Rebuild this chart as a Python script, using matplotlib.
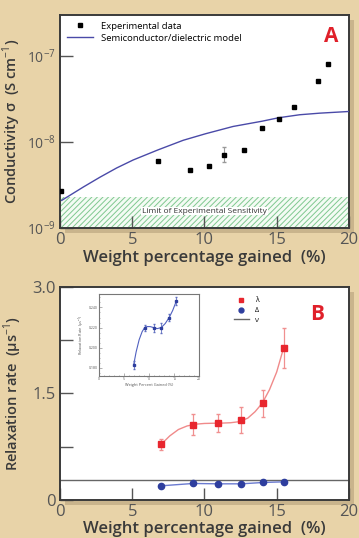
import numpy as np
import matplotlib.pyplot as plt
from matplotlib.patches import Rectangle
from matplotlib.lines import Line2D
from matplotlib.ticker import FixedLocator, FixedFormatter, NullLocator

plt.rcParams['font.family'] = ['Open Sans', 'DejaVu Sans']
plt.rcParams['mathtext.fontset'] = 'custom'
plt.rcParams['mathtext.rm'] = 'Open Sans'
plt.rcParams['hatch.linewidth'] = 0.7

# panel A: conductivity vs weight gain
wt_exp = [0.05, 6.77, 8.99, 10.3, 11.34, 12.74, 13.99, 15.14, 16.22, 17.88, 18.53]
sigma_exp = [2.7e-9, 6.0e-9, 4.7e-9, 5.3e-9, 7.1e-9, 8.2e-9, 1.44e-8, 1.84e-8, 2.55e-8, 5.1e-8, 8.1e-8]
sigma_err_lo = [0, 0, 0, 0, 1.3e-9, 0, 0, 0, 0, 0, 0]
sigma_err_hi = [0, 0, 0, 0, 1.6e-9, 0, 0, 0, 0, 0, 0]
wt_model = [0.12, 1.61, 2.76, 3.92, 5.07, 6.77, 8.53, 10.07, 11.98, 13.99, 15.14, 16.59, 17.97, 20.0]
sigma_model = [2.1e-9, 3.0e-9, 3.9e-9, 5.0e-9, 6.2e-9, 8.1e-9, 1.05e-8, 1.25e-8, 1.52e-8,
               1.75e-8, 1.92e-8, 2.08e-8, 2.17e-8, 2.27e-8]
sens_limit = 2.3e-9

# panel B: relaxation rates
wt_b = [7.0, 9.22, 10.97, 12.56, 14.06, 15.48]
lam = [0.78, 1.06, 1.08, 1.12, 1.36, 2.14]
lam_err = [0.08, 0.145, 0.13, 0.18, 0.19, 0.28]
delta = [0.197, 0.23, 0.225, 0.225, 0.244, 0.253]
nu = 0.28
wt_lam_fit = [7.0, 7.6, 8.2, 8.8, 9.4, 10.0, 10.6, 11.2, 11.8, 12.4, 13.0, 13.5, 14.0, 14.5, 15.0, 15.48]
lam_fit = [0.78, 0.90, 0.99, 1.04, 1.065, 1.075, 1.078, 1.08, 1.085, 1.10, 1.15, 1.24, 1.36, 1.55, 1.80, 2.14]

# inset data
wt_in = [6.9, 9.1, 10.9, 12.4, 14.0, 15.4]
rate_in = [0.183, 0.220, 0.220, 0.220, 0.230, 0.246]
rate_in_err = [0.004, 0.003, 0.004, 0.005, 0.003, 0.004]
wt_in_fit = [6.9, 7.4, 8.0, 8.6, 9.1, 9.6, 10.2, 10.9, 11.6, 12.4, 13.2, 14.0, 14.7, 15.4]
rate_in_fit = [0.183, 0.196, 0.208, 0.216, 0.220, 0.221, 0.221, 0.220, 0.219, 0.220, 0.224, 0.230, 0.237, 0.246]

bg = '#e8d3a8'
frame = '#3a3a3a'
txt = '#3a3a3a'

fig = plt.figure(figsize=(3.59, 5.38), dpi=100, facecolor=bg)

def shadow(rect):
    l, b, w, h = rect
    fig.add_artist(Rectangle((l + 0.014, b - 0.009), w, h, transform=fig.transFigure,
                             facecolor='#c9b48c', edgecolor='none', zorder=-5))

def style(ax):
    for s in ax.spines.values():
        s.set_color(frame)
        s.set_linewidth(1.4)
    ax.tick_params(direction='in', length=9, width=1.0, color='#555555',
                   labelsize=12, labelcolor='#555555', pad=3, top=False, right=False)

rect_a = [0.167, 0.576, 0.805, 0.396]
rect_b = [0.167, 0.071, 0.805, 0.396]
shadow(rect_a)
shadow(rect_b)

ax = fig.add_axes(rect_a)
style(ax)
ax.set_yscale('log')
ax.set_xlim(0, 20)
ax.set_ylim(1e-9, 3e-7)
ax.axhspan(1e-9, sens_limit, facecolor='#f4fbf4', edgecolor='#80c890', hatch='//////', linewidth=0, zorder=1)
ax.text(10, 1.58e-9, 'Limit of Experimental Sensitivity', ha='center', va='center', fontsize=6,
        color='#333333', zorder=3, bbox=dict(facecolor='white', edgecolor='none', pad=0.5))
ax.plot(wt_model, sigma_model, color='#4a4aa8', lw=1.0, zorder=4)
ax.errorbar(wt_exp, sigma_exp, yerr=[sigma_err_lo, sigma_err_hi], fmt='s', color='black', ms=3.5,
            ecolor='#999999', elinewidth=0.8, capsize=1.5, zorder=5)
ax.yaxis.set_major_locator(FixedLocator([1e-9, 1e-8, 1e-7]))
ax.yaxis.set_major_formatter(FixedFormatter([r'$10^{-9}$', r'$10^{-8}$', r'$10^{-7}$']))
ax.yaxis.set_minor_locator(NullLocator())
ax.tick_params(axis='y', labelsize=10)
ax.set_xticks([0, 5, 10, 15, 20])
ax.set_xlabel('Weight percentage gained  (%)', fontsize=12, color=txt, labelpad=1, fontweight='semibold')
ax.set_ylabel('Conductivity σ  (S cm$^{-1}$)', fontsize=10.5, color=txt, labelpad=3, fontweight='semibold')
leg_a = [Line2D([], [], ls='none', marker='s', color='black', ms=3.5),
         Line2D([], [], color='#4a4aa8', lw=1.0)]
ax.legend(leg_a, ['Experimental data', 'Semiconductor/dielectric model'], loc='upper left',
          frameon=False, fontsize=6.8, handlelength=2.8, borderaxespad=0.3, labelspacing=0.3)
ax.text(0.94, 0.9, 'A', transform=ax.transAxes, ha='center', va='center', fontsize=15,
        fontweight='bold', color='#e0202a')

bx = fig.add_axes(rect_b)
style(bx)
bx.set_xlim(0, 20)
bx.set_ylim(0, 3.0)
bx.axhline(nu, color='#666666', lw=1.0, zorder=2)
bx.plot(wt_lam_fit, lam_fit, color='#f08a8a', lw=1.0, zorder=2)
bx.errorbar(wt_b, lam, yerr=lam_err, fmt='s', color='#e8262e', ms=4.5, ecolor='#f09090',
            elinewidth=0.9, capsize=1.5, zorder=4)
bx.plot(wt_b, delta, color='#6a7ad0', lw=1.0, zorder=3)
bx.plot(wt_b, delta, 'o', color='#2e3e9e', ms=4.5, zorder=4)
bx.yaxis.set_major_locator(FixedLocator([0, 0.75, 1.5, 2.25, 3.0]))
bx.yaxis.set_major_formatter(FixedFormatter(['0', '', '1.5', '', '3.0']))
bx.set_xticks([0, 5, 10, 15, 20])
bx.set_xlabel('Weight percentage gained  (%)', fontsize=12, color=txt, labelpad=1, fontweight='semibold')
bx.set_ylabel('Relaxation rate  (μs$^{-1}$)', fontsize=10.5, color=txt, labelpad=6, fontweight='semibold')
leg_b = [Line2D([], [], ls='none', marker='s', color='#e8262e', ms=3.5),
         Line2D([], [], ls='none', marker='o', color='#2e3e9e', ms=3.5),
         Line2D([], [], color='#666666', lw=1.0)]
bx.legend(leg_b, ['λ', 'Δ', 'ν'], loc='upper left', frameon=False,
          fontsize=5, handlelength=2.2, labelspacing=0.4, bbox_to_anchor=(0.58, 0.98))
bx.text(0.89, 0.87, 'B', transform=bx.transAxes, ha='center', va='center', fontsize=15,
        fontweight='bold', color='#e0202a')

ix = fig.add_axes([0.276, 0.301, 0.279, 0.152])
for s in ix.spines.values():
    s.set_color('#777777')
    s.set_linewidth(0.8)
ix.set_xlim(0, 20)
ix.set_ylim(0.172, 0.253)
ix.plot(wt_in_fit, rate_in_fit, color='#5060c0', lw=0.8)
ix.errorbar(wt_in, rate_in, yerr=rate_in_err, fmt='s', color='#2e3e9e', ms=2, ecolor='#6070c0',
            elinewidth=0.6, capsize=1)
ix.set_xticks([0, 5, 10, 15, 20])
ix.set_yticks([0.180, 0.200, 0.220, 0.240])
ix.set_yticklabels(['0.180', '0.200', '0.220', '0.240'])
ix.minorticks_on()
ix.tick_params(which='both', direction='in', labelsize=2.5, labelcolor='#555555', color='#777777',
               length=2, width=0.4, pad=1)
ix.tick_params(which='minor', length=1)
ix.set_xlabel('Weight Percent Gained (%)', fontsize=2.8, color='#555555', labelpad=1)
ix.set_ylabel('Relaxation Rate (μs$^{-1}$)', fontsize=2.8, color='#555555', labelpad=1)

fig.savefig('out.png', dpi=100, facecolor=bg)
